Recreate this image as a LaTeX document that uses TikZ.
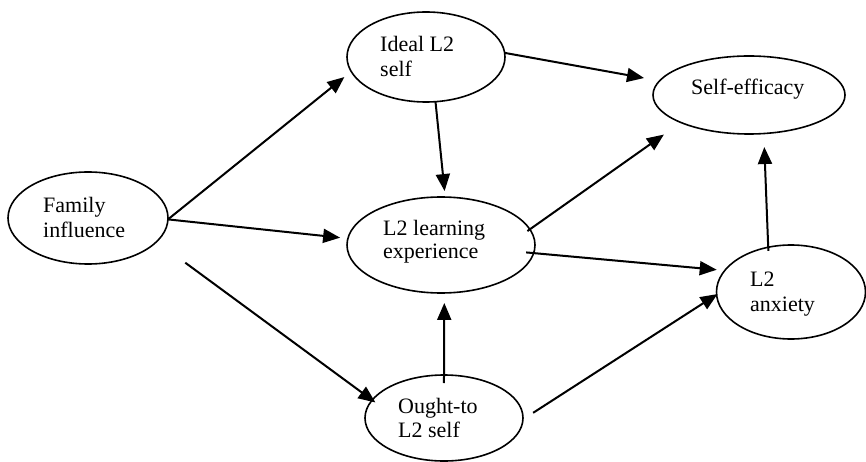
\documentclass[tikz,border=0pt]{standalone}
\usepackage{fontspec}
\setmainfont{Liberation Serif}
\usetikzlibrary{shapes.geometric,arrows.meta}
\begin{document}
\begin{tikzpicture}[x=1pt,y=-1pt,
  ell/.style={draw, ellipse, line width=1.6pt, inner sep=0pt, outer sep=0pt},
  lbl/.style={anchor=base west, inner sep=0pt, font=\fontsize{22}{25}\selectfont},
  arr/.style={line width=2pt, -{Triangle[length=17pt,width=14pt]}}]
\useasboundingbox (0,0) rectangle (866,462);
% ellipses
\node[ell, minimum width=160pt, minimum height=92pt] (fam) at (88,218) {};
\node[ell, minimum width=158pt, minimum height=90pt] (ideal) at (426,57) {};
\node[ell, minimum width=192pt, minimum height=78pt] (self) at (749,95) {};
\node[ell, minimum width=188pt, minimum height=96pt] (learn) at (441,245) {};
\node[ell, minimum width=149pt, minimum height=94pt] (anx) at (791,292) {};
\node[ell, minimum width=158pt, minimum height=86pt] (ought) at (444,418) {};
% labels
\node[lbl] (famA) at (43,212) {Family};
\node[lbl] (famB) at (43,237) {influence};
\node[lbl] (idealA) at (380,52) {Ideal L2};
\node[lbl] (idealB) at (380,77) {self};
\node[lbl] (selfA) at (691,95) {Self-efficacy};
\node[lbl] (learnA) at (383,235) {L2 learning};
\node[lbl] (learnB) at (383,258) {experience};
\node[lbl] (anxA) at (750,286) {L2};
\node[lbl] (anxB) at (750,311) {anxiety};
\node[lbl] (oughtA) at (398,413) {Ought-to};
\node[lbl] (oughtB) at (398,437) {L2 self};
% connectors
\draw[arr, shorten >=8.8pt] (fam.-1) -- (ideal.191.8);
\draw[arr, shorten >=7.8pt] (fam.-1) -- (learn.176.2);
\draw[arr, shorten <=35.6pt, shorten >=-4pt] (fam.-19.3) -- (ought.166.2);
\draw[arr, shorten >=15.8pt] (ideal.3) -- (self.171.8);
\draw[arr, shorten >=6pt] (ideal.-78) -- (learn.85.8);
\draw[arr, shorten <=-3pt, shorten >=20.9pt] (learn.10) -- (self.202.7);
\draw[arr, shorten <=-7.5pt, shorten >=8.1pt] (learn.-5.4) -- (anx.162.3);
\draw[arr, shorten <=-8pt, shorten >=10pt] (ought.90) -- (learn.-86);
\draw[arr, shorten <=12.1pt, shorten >=-1pt] (ought.-1.9) -- (anx.182.75);
\draw[arr, shorten <=-3.7pt, shorten >=13.5pt] (anx.117.3) -- (self.-69.4);
\end{tikzpicture}
\end{document}
